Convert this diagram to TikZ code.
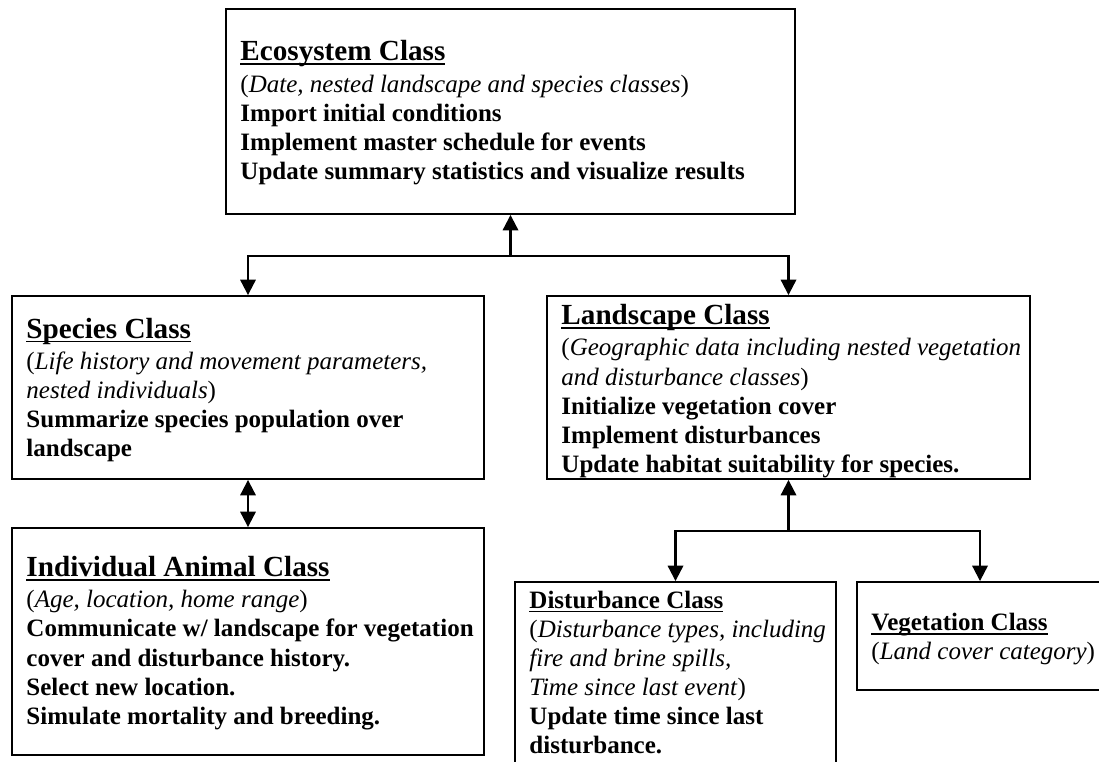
\documentclass[tikz,border=0pt]{standalone}
\usepackage{fontspec}
\setmainfont{Liberation Serif}
\usepackage{tikz}
\usetikzlibrary{arrows.meta,positioning,fit}

% underlined class title
\newcommand{\classhead}[1]{\setbox0\hbox{\bfseries #1}\rlap{\rule[-2pt]{\wd0}{0.8pt}}\box0}
\newcommand{\bighead}[1]{{\fontsize{14}{16}\selectfont\classhead{#1}}}

\begin{document}
\begin{tikzpicture}[
    x=0.48pt, y=-0.48pt,
    box/.style={draw, line width=0.9pt, inner sep=0pt},
    txt/.style={align=left, inner sep=0pt, font=\fontsize{12}{14}\selectfont},
    link/.style={line width=1pt, -{Triangle[width=7.4pt,length=7.4pt]}},
    twoway/.style={line width=1pt, {Triangle[width=7.4pt,length=7.4pt]}-{Triangle[width=7.4pt,length=7.4pt]}}
]

\useasboundingbox (0,0) rectangle (1099,761);
\clip (0,0) rectangle (1099,761);

% Class boxes
\node[box, fit={(226,9) (795,214)}] (eco) {};
\node[box, fit={(12,296) (484,479)}] (species) {};
\node[box, fit={(547,296) (1030,479)}] (land) {};
\node[box, fit={(12,528) (484,755)}] (indiv) {};
\node[box, fit={(515,582) (836,800)}] (dist) {};
\node[box, fit={(857,582) (1103,690)}] (veg) {};

% Box texts
\node[txt, anchor=west] (ecotext) at ([xshift=7.2pt,yshift=-0.6pt]eco.west) {%
    \bighead{Ecosystem Class}\\[1pt]
    (\textit{Date, nested landscape and species classes})\\
    \textbf{Import initial conditions}\\
    \textbf{Implement master schedule for events}\\
    \textbf{Update summary statistics and visualize results}};

\node[txt, anchor=west] (speciestext) at ([xshift=7.2pt,yshift=-1.2pt]species.west) {%
    \bighead{Species Class}\\[1pt]
    (\textit{Life history and movement parameters,}\\
    \textit{nested individuals})\\
    \textbf{Summarize species population over}\\
    \textbf{landscape}};

\node[txt, anchor=west] (landtext) at ([xshift=7.2pt,yshift=-1.8pt]land.west) {%
    \bighead{Landscape Class}\\[1pt]
    (\textit{Geographic data including nested vegetation}\\
    \textit{and disturbance classes})\\
    \textbf{Initialize vegetation cover}\\
    \textbf{Implement disturbances}\\
    \textbf{Update habitat suitability for species.}};

\node[txt, anchor=west] (indivtext) at ([xshift=7.2pt,yshift=-0.8pt]indiv.west) {%
    \bighead{Individual Animal Class}\\[1pt]
    (\textit{Age, location, home range})\\
    \textbf{Communicate w/ landscape for vegetation}\\
    \textbf{cover and disturbance history.}\\
    \textbf{Select new location.}\\
    \textbf{Simulate mortality and breeding.}};

\node[txt, anchor=north west] (disttext) at ([xshift=7.2pt,yshift=-4.4pt]dist.north west) {%
    \classhead{Disturbance Class}\\
    (\textit{Disturbance types, including}\\
    \textit{fire and brine spills,}\\
    \textit{Time since last event})\\
    \textbf{Update time since last}\\
    \textbf{disturbance.}};

\node[txt, anchor=west] (vegtext) at ([xshift=7.2pt,yshift=-1.5pt]veg.west) {%
    \classhead{Vegetation Class}\\
    (\textit{Land cover category})};

% Connectors
\coordinate (split1) at (eco.south |- 0,256);
\coordinate (split2) at (land.south |- 0,531);

\draw[link] (split1) -- (eco.south);
\draw[link] (split1) -| (species.north);
\draw[link] (split1) -| (land.north);
\draw[twoway] (species.south) -- (indiv.north);
\draw[link] (split2) -- (land.south);
\draw[link] (split2) -| (dist.north);
\draw[link] (split2) -| (veg.north);

\end{tikzpicture}
\end{document}
